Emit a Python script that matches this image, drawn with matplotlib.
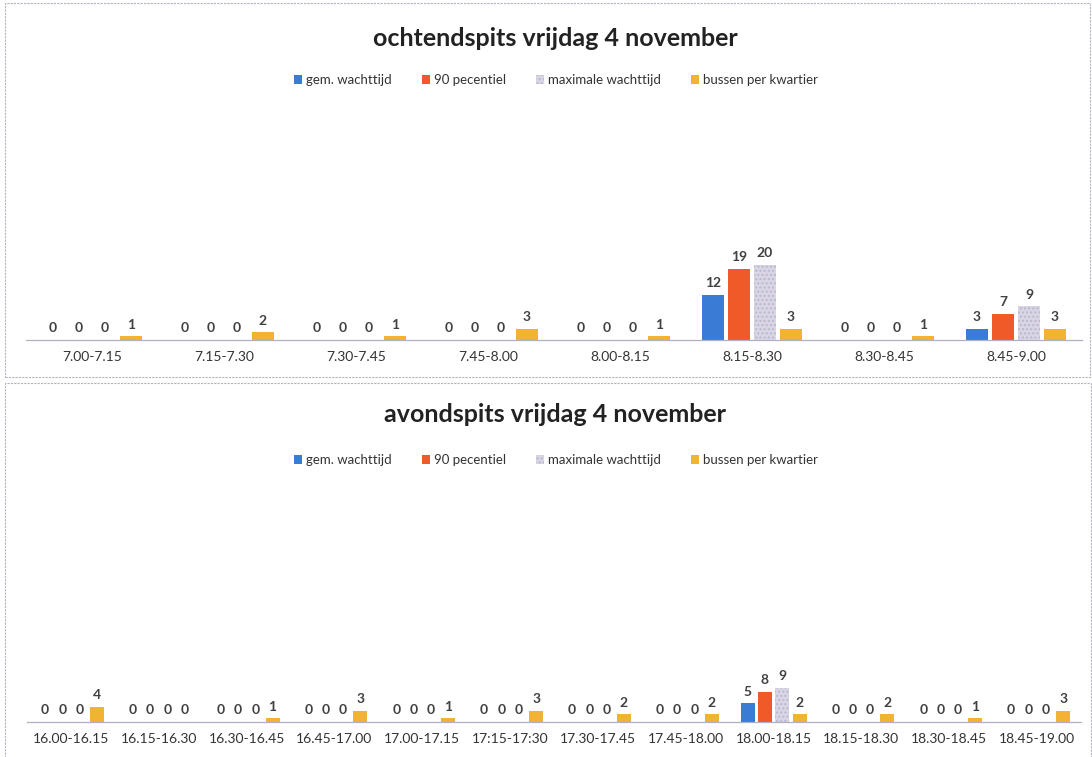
import numpy as np
import matplotlib
matplotlib.use("Agg")
import matplotlib.pyplot as plt
from matplotlib.patches import Rectangle

plt.rcParams['font.family'] = ['Lato', 'DejaVu Sans']

series_names = ["gem. wachttijd", "90 pecentiel", "maximale wachttijd", "bussen per kwartier"]
series_colors = ["#3a7bd5", "#f05a28", "#d9d5e6", "#f2b233"]

# ochtendspits
morning_slots = ["7.00-7.15", "7.15-7.30", "7.30-7.45", "7.45-8.00",
                 "8.00-8.15", "8.15-8.30", "8.30-8.45", "8.45-9.00"]
morning_avg = [0, 0, 0, 0, 0, 12, 0, 3]
morning_p90 = [0, 0, 0, 0, 0, 19, 0, 7]
morning_max = [0, 0, 0, 0, 0, 20, 0, 9]
morning_bus = [1, 2, 1, 3, 1, 3, 1, 3]

# avondspits
evening_slots = ["16.00-16.15", "16.15-16.30", "16.30-16.45", "16.45-17.00",
                 "17.00-17.15", "17:15-17:30", "17.30-17.45", "17.45-18.00",
                 "18.00-18.15", "18.15-18.30", "18.30-18.45", "18.45-19.00"]
evening_avg = [0, 0, 0, 0, 0, 0, 0, 0, 5, 0, 0, 0]
evening_p90 = [0, 0, 0, 0, 0, 0, 0, 0, 8, 0, 0, 0]
evening_max = [0, 0, 0, 0, 0, 0, 0, 0, 9, 0, 0, 0]
evening_bus = [4, 0, 1, 3, 1, 3, 2, 2, 2, 2, 1, 3]

W, H = 1092, 757


def fx(px):
    return px / W


def fy(py):
    return 1 - py / H


def draw_chart(fig, box, ax_rect, title, title_y, legend_y, slots, values):
    # chart frame
    x0, y0, x1, y1 = box
    fig.patches.append(Rectangle((fx(x0), fy(y1)), fx(x1 - x0), (y1 - y0) / H,
                                 transform=fig.transFigure, fill=False,
                                 edgecolor="#b4b4c4", linewidth=0.8, linestyle=(0, (2, 1))))

    left, top, right, base = ax_rect
    ax = fig.add_axes([fx(left), fy(base), fx(right - left), (base - top) / H])
    x = np.arange(len(slots))
    step = 0.197
    width = 0.16
    handles = []
    for i, (vals, name, col) in enumerate(zip(values, series_names, series_colors)):
        kw = {}
        if i == 2:
            kw = dict(hatch="....", edgecolor="#b9b9c9", linewidth=0)
        bars = ax.bar(x + (i - 1.5) * step, vals, width, color=col, label=name, **kw)
        ax.bar_label(bars, padding=4, fontsize=10, color="#404040", fontweight="bold")
        handles.append(bars)

    ax.set_xlim(-0.5, len(slots) - 0.5)
    ax.set_ylim(0, 64)
    ax.set_xticks(x)
    ax.set_xticklabels(slots, fontsize=10, color="#333333")
    ax.tick_params(axis="x", length=0, pad=8)
    ax.set_yticks([])
    for side in ["top", "right", "left"]:
        ax.spines[side].set_visible(False)
    ax.spines["bottom"].set_color("#b0b0c4")
    ax.spines["bottom"].set_linewidth(0.9)
    ax.patch.set_alpha(0)

    fig.text(fx(555), fy(title_y), title, ha="center", va="center",
             fontsize=18, fontweight="bold", color="#222222")
    fig.legend(handles=handles, labels=series_names, loc="center",
               bbox_to_anchor=(fx(556), fy(legend_y)), ncol=4, frameon=False,
               fontsize=9.5, handlelength=0.6, handleheight=0.6,
               handletextpad=0.3, columnspacing=2.3, labelcolor="#333333")
    return ax


fig = plt.figure(figsize=(W / 100, H / 100), dpi=100)

draw_chart(fig, (5, 3, 1090, 377), (26, 100, 1082, 340),
           "ochtendspits vrijdag 4 november", 38, 80, morning_slots,
           [morning_avg, morning_p90, morning_max, morning_bus])

draw_chart(fig, (5, 383, 1091, 760), (27, 480, 1081, 722),
           "avondspits vrijdag 4 november", 415, 460, evening_slots,
           [evening_avg, evening_p90, evening_max, evening_bus])

fig.savefig("out.png", dpi=100)
